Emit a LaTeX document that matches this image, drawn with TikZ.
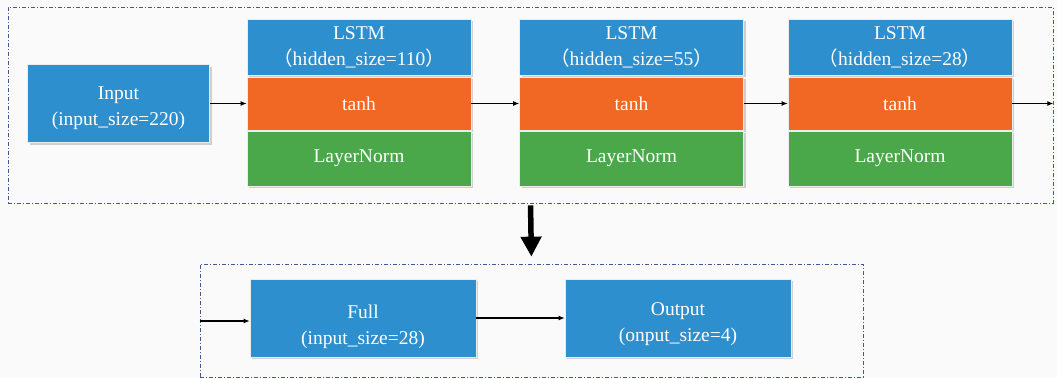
\documentclass[tikz,border=0pt]{standalone}
\usepackage{fontspec}
\setmainfont{Liberation Serif}
\newfontfamily\cjk{Noto Sans CJK SC}
\usetikzlibrary{arrows.meta,shadows}

\definecolor{lblue}{RGB}{46,143,207}
\definecolor{lorange}{RGB}{241,103,36}
\definecolor{lgreen}{RGB}{74,168,74}
\definecolor{frm}{RGB}{70,85,150}
\definecolor{bg}{RGB}{250,250,250}

\newcommand{\twolines}[3]{\raisebox{#1}[\height][\depth]{\begin{tabular}{@{}c@{}}#2\\#3\end{tabular}}}

\begin{document}
\begin{tikzpicture}[x=1pt,y=-1pt,
  blk/.style={fill=#1,draw=white!85!gray,line width=.6pt,text=white,inner sep=0pt,
    align=center,font=\fontsize{19.5}{26}\selectfont,
    drop shadow={shadow xshift=2pt,shadow yshift=-2pt,opacity=.35,fill=gray}},
  frame/.style={draw=frm,line width=.7pt,dash pattern=on 4pt off 2pt on 1pt off 2pt,inner sep=0pt},
  arr/.style={line width=1.1pt,-{Latex[length=6pt,width=5pt]}}]
\def\bw{224pt}
\fill[bg] (0,0) rectangle (1057,378);
\useasboundingbox (0,0) rectangle (1057,378);

% dashed frames
\node[frame,minimum width=1045pt,minimum height=196pt] (top) at (530.5,105) {};
\node[frame,minimum width=663pt,minimum height=113pt] (bot) at (531.5,320.5) {};

% input
\node[blk=lblue,minimum width=182pt,minimum height=78pt] (input) at (118.5,103.5)
  {\twolines{-3.5pt}{Input}{(input\_size=220)}};

% three lstm stacks
\foreach \x/\h/\n in {359/110/1,631.5/55/2,900/28/3}{
  \node[blk=lblue,minimum width=\bw,minimum height=56pt] (lstm\n) at (\x,47)
    {LSTM\\{\cjk （}hidden\_size=\h{\cjk ）}};
  \node[blk=lorange,minimum width=\bw,minimum height=53pt] (tanh\n) at (\x,103.5) {tanh};
  \node[blk=lgreen,minimum width=\bw,minimum height=55pt] (norm\n) at (\x,158.5) {LayerNorm};
}

\draw[arr] (input.east) -- (tanh1.west);
\draw[arr] (tanh1.east) -- (tanh2.west);
\draw[arr] (tanh2.east) -- (tanh3.west);
\draw[arr] (tanh3.east) -- (top.east |- tanh3.east);

% top part feeds the dense part
\draw[line width=5.5pt,-{Triangle[width=20pt,length=20pt]},shorten <=2pt,shorten >=7pt]
  (top.south) -- (bot.north);

\node[blk=lblue,minimum width=226pt,minimum height=78pt] (full) at (363,318)
  {\twolines{-8pt}{Full}{(input\_size=28)}};
\node[blk=lblue,minimum width=226pt,minimum height=78pt] (output) at (678,318)
  {\twolines{-5.5pt}{Output}{(onput\_size=4)}};

\draw[arr] ([yshift=-3pt]bot.west |- full.west) -- ([yshift=-3pt]full.west);
\draw[arr] (full.east) -- (output.west);
\end{tikzpicture}
\end{document}
